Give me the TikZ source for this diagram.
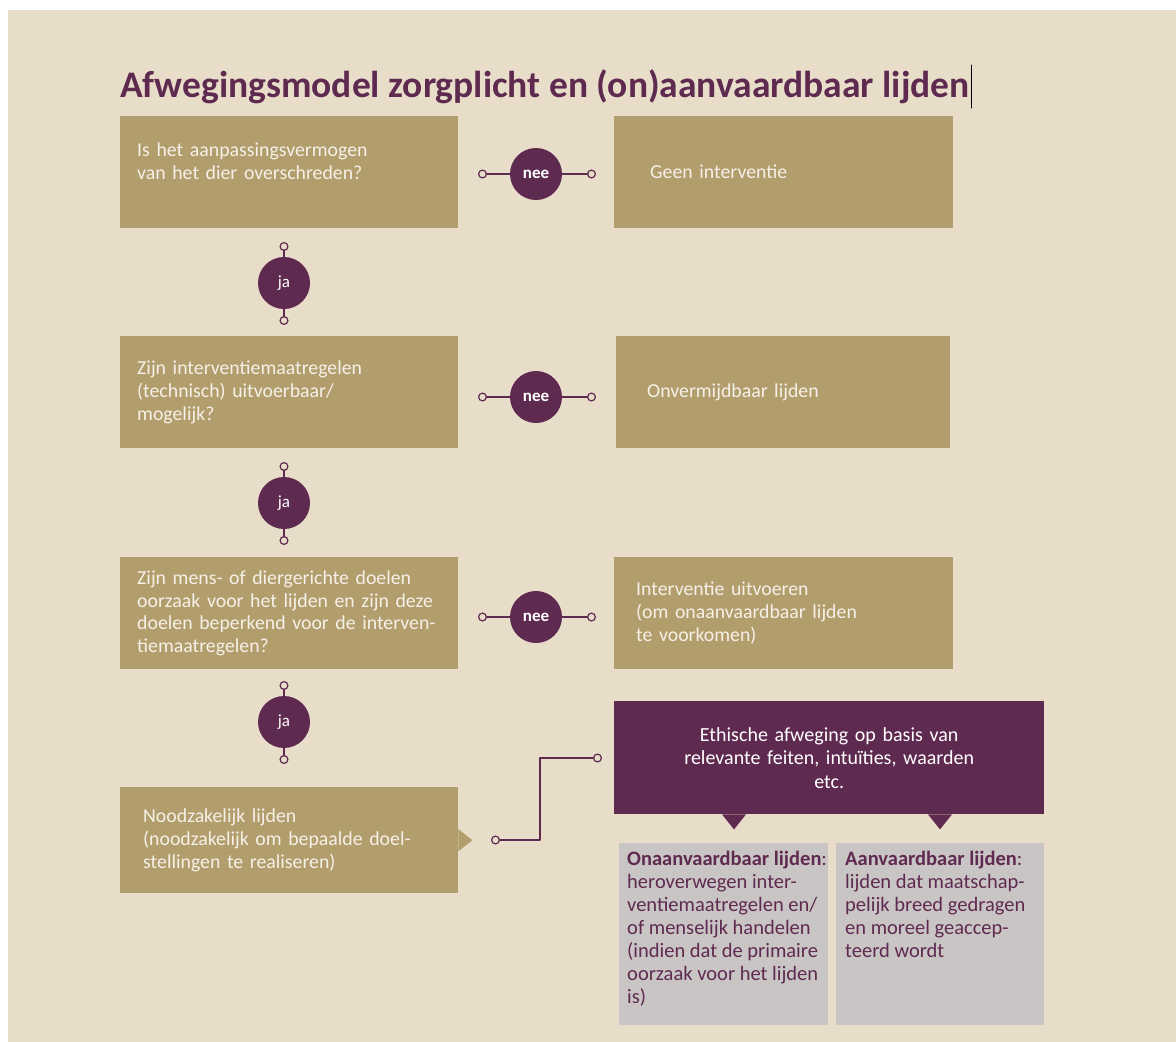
\documentclass[tikz,border=0pt]{standalone}
\usepackage{fontspec}
\setmainfont{Carlito}
\usetikzlibrary{arrows.meta}
\definecolor{achtergrond}{HTML}{E7DDC8}
\definecolor{bruin}{HTML}{B29D6C}
\definecolor{paars}{HTML}{5F2A50}
\definecolor{grijs}{HTML}{CAC5C5}
\definecolor{room}{HTML}{F6F1E8}
\tikzset{
  titel/.style={anchor=base west, inner sep=0pt, text=paars, font=\fontsize{37.5}{40}\selectfont\bfseries},
  vraag/.style={fill=bruin, text=room, anchor=north west, minimum width=338pt, minimum height=112pt,
    text width=304pt, inner xsep=17pt, align=left, font=\fontsize{19.8}{22.7}\selectfont},
  uitkomst/.style={vraag, minimum width=339pt},
  keuze/.style={circle, fill=paars, text=white, minimum size=52pt, inner sep=0pt, font=\fontsize{17}{19}\selectfont},
  link/.style={draw=paars, line width=2pt},
  bol/.tip={Circle[open, length=9pt, width=9pt, line width=1.2pt]},
  tekst/.style={anchor=north west, inner sep=0pt, align=left, text=paars, font=\fontsize{20.5}{23}\selectfont}
}
\begin{document}
\begin{tikzpicture}[x=1pt, y=-1pt, line join=round, line cap=round]
% achtergrond en kader
\useasboundingbox (0,0) rectangle (1176,1042);
\fill[white] (0,0) rectangle (1176,1042);
\fill[achtergrond] (8,10) rectangle (1176,1042);
% titel
\node[titel] (titel) at (120,97) {Afwegingsmodel zorgplicht en (on)aanvaardbaar lijden};
\draw[line width=1pt] (971,65) -- (971,108);
% vragen (links)
\node[vraag] (vraag1) at (120,116) {Is het aanpassingsvermogen\\van het dier overschreden?\\\mbox{}};
\node[vraag] (vraag2) at (120,336) {Zijn interventiemaatregelen\\(technisch) uitvoerbaar/\\mogelijk?};
\node[vraag] (vraag3) at (120,557) {Zijn mens- of diergerichte doelen\\oorzaak voor het lijden en zijn deze\\doelen beperkend voor de interven-\\tiemaatregelen?};
\node[vraag, minimum height=106pt, inner xsep=23pt, text width=292pt] (nood) at (120,787) {Noodzakelijk lijden\\(noodzakelijk om bepaalde doel-\\stellingen te realiseren)};
\fill[bruin] ([yshift=11pt]nood.east) -- ([xshift=14pt]nood.east) -- ([yshift=-11pt]nood.east) -- cycle;
% uitkomsten (rechts)
\node[uitkomst, inner xsep=36pt, text width=267pt] (geen) at (614,116) {Geen interventie};
\node[uitkomst, minimum width=334pt, inner xsep=31pt, text width=272pt] (onvermijdbaar) at (616,336) {Onvermijdbaar lijden};
\node[uitkomst, inner xsep=22pt, text width=295pt] (uitvoeren) at (614,557) {Interventie uitvoeren\\(om onaanvaardbaar lijden\\te voorkomen)};
% nee / ja keuzes
\foreach \n/\yn/\yj in {1/174/283, 2/397/503, 3/617/722}{
  \node[keuze, font=\fontsize{17}{19}\selectfont\bfseries] (nee\n) at (536,\yn) {nee};
  \coordinate (nee\n-in) at (478,\yn);
  \coordinate (nee\n-uit) at (596,\yn);
  \draw[link, bol-] (nee\n-in) -- (nee\n);
  \draw[link, -bol] (nee\n) -- (nee\n-uit);
  \node[keuze] (ja\n) at (284,\yj) {ja};
  \coordinate (ja\n-in) at (284,\yj-41);
  \coordinate (ja\n-uit) at (284,\yj+42);
  \draw[link, bol-] (ja\n-in) -- (ja\n);
  \draw[link, -bol] (ja\n) -- (ja\n-uit);
}
% ethische afweging
\node[fill=paars, text=white, anchor=north west, minimum width=430pt, minimum height=113pt,
  text width=360pt, align=center, font=\fontsize{20}{23.5}\selectfont] (ethiek) at (614,701)
  {Ethische afweging op basis van\\relevante feiten, intuïties, waarden\\etc.};
\fill[paars] ([xshift=108pt]ethiek.south west) -- ([xshift=120pt, yshift=-15pt]ethiek.south west) -- ([xshift=132pt]ethiek.south west) -- cycle;
\fill[paars] ([xshift=314pt]ethiek.south west) -- ([xshift=326pt, yshift=-15pt]ethiek.south west) -- ([xshift=338pt]ethiek.south west) -- cycle;
\coordinate (nood-uit) at (491,840);
\coordinate (ethiek-in) at (602,758);
\draw[link, bol-bol] (nood-uit) -- ++(49,0) |- (ethiek-in);
% onaanvaardbaar / aanvaardbaar
\node[fill=grijs, anchor=north west, minimum width=209pt, minimum height=182pt, inner sep=0pt] (onaanv) at (619,843) {};
\node[fill=grijs, anchor=north west, minimum width=208pt, minimum height=182pt, inner sep=0pt] (aanv) at (836,843) {};
\node[tekst] (onaanv-tekst) at ([xshift=8pt, yshift=-8pt]onaanv.north west)
  {\textbf{Onaanvaardbaar lijden}:\\heroverwegen inter-\\ventiemaatregelen en/\\of menselijk handelen\\(indien dat de primaire\\oorzaak voor het lijden\\is)};
\node[tekst] (aanv-tekst) at ([xshift=9pt, yshift=-8pt]aanv.north west)
  {\textbf{Aanvaardbaar lijden}:\\lijden dat maatschap-\\pelijk breed gedragen\\en moreel geaccep-\\teerd wordt};
\end{tikzpicture}
\end{document}
